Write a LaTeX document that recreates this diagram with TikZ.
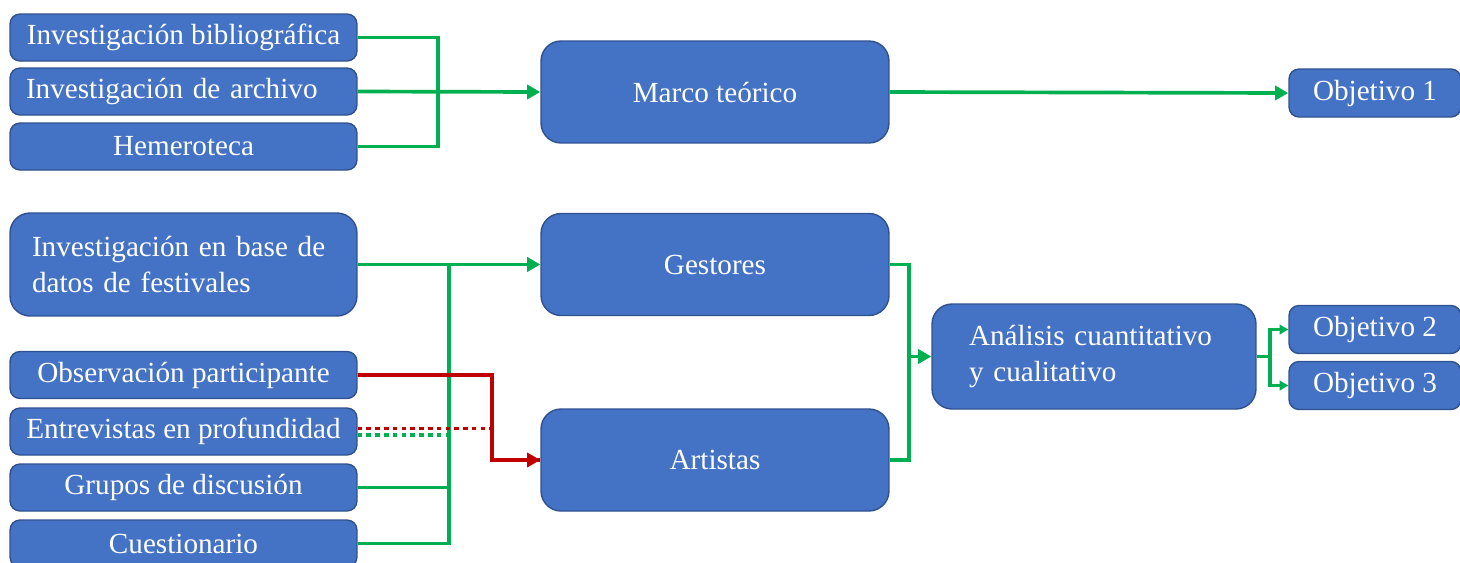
\documentclass[tikz,border=0pt]{standalone}
\usepackage{fontspec}
\setmainfont{Liberation Serif}
\usepackage{tikz}
\usetikzlibrary{arrows.meta}

\definecolor{boxblue}{HTML}{4472C4}
\definecolor{boxedge}{HTML}{2F528F}
\definecolor{lgreen}{HTML}{00B050}
\definecolor{lred}{HTML}{C00000}

\begin{document}
\begin{tikzpicture}[x=0.02cm,y=-0.02cm,
	box/.style={rectangle,rounded corners=0.2cm,fill=boxblue,draw=boxedge,line width=0.8pt,
		text=white,font=\fontsize{16.6}{20.5}\selectfont,inner sep=0pt},
	smallbox/.style={box,minimum width=6.94cm,minimum height=0.94cm},
	bigbox/.style={box,rounded corners=0.4cm,minimum width=6.96cm,minimum height=2.04cm},
	objbox/.style={box,minimum width=3.44cm,minimum height=0.96cm},
	gline/.style={draw=lgreen,line width=2.1pt},
	rline/.style={draw=lred,line width=2.1pt},
	dots/.style={dash pattern=on 2.6pt off 2.4pt},
	tip/.style={-{Triangle[length=7.5pt,width=8pt]}},
	smalltip/.style={-{Triangle[length=5pt,width=5.5pt]}}]
				\useasboundingbox (0,0) rectangle (1460,562);
				\clip (0,0) rectangle (1460,562);
				\node[smallbox] (bib) at (183.5,37.5) {Investigación bibliográfica};
				\node[smallbox,text width=6.3cm,align=left] (arch) at (183.5,91.5) {Investigación de archivo};
				\node[smallbox] (hem) at (183.5,146.5) {Hemeroteca};
				\node[bigbox] (marco) at (715,92) {Marco teórico};
				\node[objbox] (obj1) at (1375,93) {Objetivo 1};
				\node[bigbox,minimum width=6.94cm,minimum height=2.06cm,text width=6.06cm,align=left] (base) at (183.5,264.5) {Investigación en base de\\datos de festivales};
				\node[bigbox] (gest) at (715,264.5) {Gestores};
				\node[bigbox] (art) at (715,460) {Artistas};
				\node[smallbox] (obs) at (183.5,375) {Observación participante};
				\node[smallbox] (ent) at (183.5,431.5) {Entrevistas en profundidad};
				\node[smallbox] (grp) at (183.5,487.5) {Grupos de discusión};
				\node[smallbox] (cue) at (183.5,543.5) {Cuestionario};
				\node[bigbox,minimum width=6.48cm,minimum height=2.1cm,text width=5cm,align=left] (ana) at (1094,356.5) {Análisis cuantitativo\\y cualitativo};
				\node[objbox] (obj2) at (1375,329.5) {Objetivo 2};
				\node[objbox] (obj3) at (1375,385.5) {Objetivo 3};
				\coordinate (jA) at (438,91.5);
				\coordinate (jB) at (449,264.5);
				\coordinate (jR) at (492,460);
				\coordinate (jC) at (909,356.5);
				\coordinate (jD) at (1270,356.5);
				\draw[gline] (bib.east) -| (jA);
				\draw[gline] (hem.east) -| (jA);
				\draw[gline,tip] (arch.east) -- (marco.west);
				\draw[gline,tip] (marco.east) -- (obj1.west);
				\draw[gline,tip] (base.east) -- (gest.west);
				\draw[gline] (grp.east) -| (jB);
				\draw[gline] (cue.east) -| (jB);
				\path ([yshift=-1.8pt]ent.east) coordinate (eg) ([yshift=1.8pt]ent.east) coordinate (er);
				\draw[gline,dots] (eg) -- (eg -| jB);
				\draw[rline,dots] (er) -| (jR) -- (art.west);
				\draw[rline,tip] (obs.east) -| (jR) -- (art.west);
				\draw[gline] (gest.east) -| (jC);
				\draw[gline] (art.east) -| (jC);
				\draw[gline,tip] (jC) -- (ana.west);
				\draw[gline] (ana.east) -- (jD);
				\draw[gline,smalltip] (jD) |- (obj2.west);
				\draw[gline,smalltip] (jD) |- (obj3.west);
			\end{tikzpicture}
\end{document}
